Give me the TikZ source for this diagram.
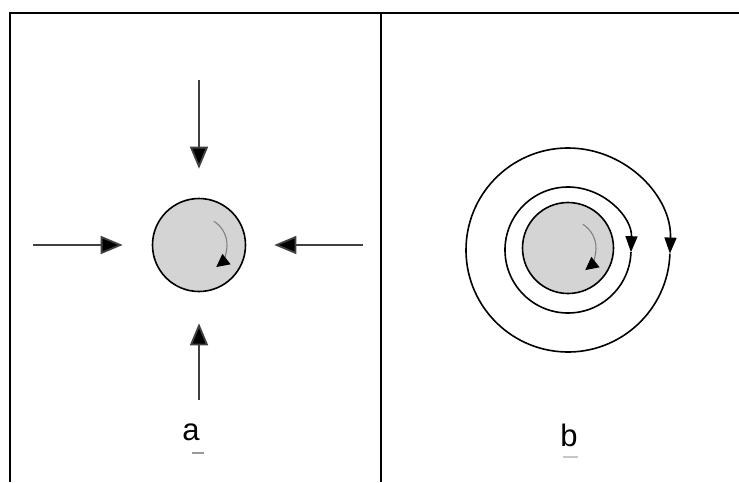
\documentclass[tikz,border=0pt]{standalone}
\usepackage{fontspec}
\setmainfont{Liberation Sans}
\usetikzlibrary{arrows.meta}
\begin{document}
\begin{tikzpicture}[x=1pt,y=-1pt,
  flow/.style={line width=1.8pt,draw=black!75,-{Triangle[length=22pt,width=18pt,fill=black]}},
  orbit/.style={line width=1.6pt,-{Triangle[length=16pt,width=12pt]}},
  spin/.style={line width=1.1pt,draw=black!50,-{Triangle[length=13pt,width=13pt,color=black]}},
  disk/.style={circle,draw,line width=1.6pt,fill=black!17,minimum size=93pt,inner sep=0pt},
  label/.style={font=\fontsize{31}{31}\selectfont,inner sep=0pt}]
\useasboundingbox (0,0) rectangle (739,482);
\draw[line width=1.8pt] (10,482) -- (10,13) -- (739,13);
\draw[line width=1.8pt] (381,13) -- (381,482);

\node[disk] (da) at (199,245) {};
\coordinate (na) at (199,80);
\coordinate (wa) at (33,245);
\coordinate (ea) at (363,245);
\coordinate (sa) at (199,400);
\draw[flow] (na) -- ([yshift=29pt]da.north);
\draw[flow] (wa) -- ([xshift=-29pt]da.west);
\draw[flow] (ea) -- ([xshift=28pt]da.east);
\draw[flow] (sa) -- ([yshift=-31pt]da.south);
\draw[spin] ([shift={(-58:28)}]da.center) arc[start angle=-58,end angle=52,radius=28];
\node[label] (la) at (191,432) {a};

\draw[orbit] (568,250) ++(2:102) arc[start angle=2,end angle=362,radius=102];
\draw[orbit] (568,250) ++(2:63) arc[start angle=2,end angle=362,radius=63];
\node[disk,minimum size=91pt] (db) at (568,248) {};
\draw[spin] ([shift={(-58:28)}]db.center) arc[start angle=-58,end angle=52,radius=28];
\node[label] (lb) at (569,435.5) {b};

\draw[line width=2pt,black!40] (192,453) -- (204,453);
\draw[line width=2pt,black!22] (563,457) -- (578,457);
\end{tikzpicture}
\end{document}
